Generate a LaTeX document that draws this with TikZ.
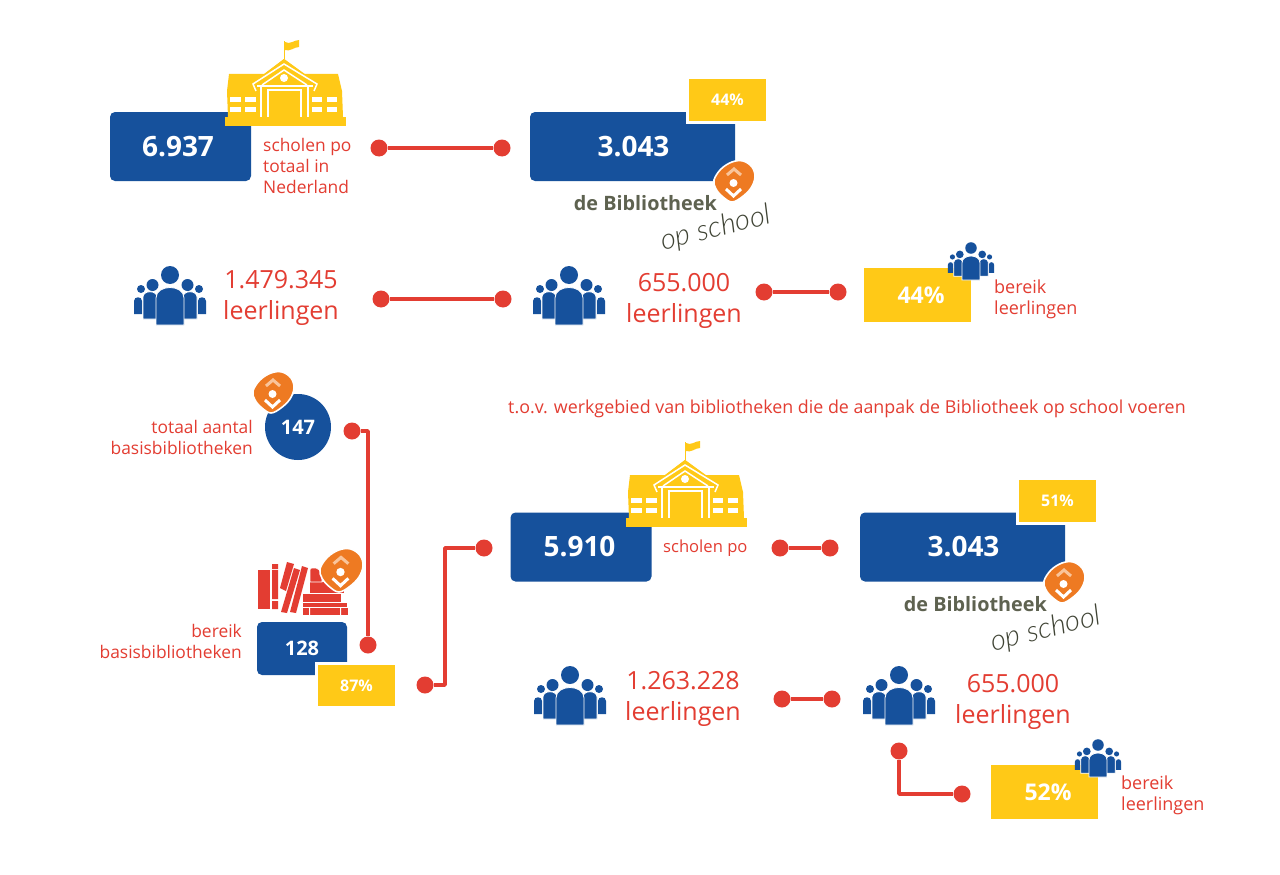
\documentclass[tikz,border=0pt]{standalone}
\usepackage{fontspec}
\setmainfont{Open Sans}
\newfontfamily\handfont{Lato Light Italic}
\usetikzlibrary{calc}
\definecolor{bibblue}{HTML}{16519C}
\definecolor{bibyellow}{HTML}{FFC917}
\definecolor{bibred}{HTML}{E33D32}
\definecolor{biborange}{HTML}{EE7A22}
\definecolor{bibpeach}{HTML}{F9C49A}
\definecolor{bibolive}{HTML}{5E6250}
\definecolor{bibhand}{HTML}{3F4334}
\newcommand{\fs}[1]{\fontsize{#1}{#1}\selectfont}
\tikzset{
  crowd/.pic={
    \foreach \s in {-1,1} {
      \fill[bibblue] (\s*29,-36) circle (4);
      \fill[bibblue] (\s*36,-11) -- (\s*36,-24) .. controls (\s*36,-29) and (\s*28,-29) .. (\s*28,-24) -- (\s*28,-11) -- cycle;
      \fill[bibblue] (\s*17.5,-40) circle (6);
      \filldraw[bibblue,draw=white,line width=.8pt] (\s*27,-6) -- (\s*27,-28) .. controls (\s*27,-35) and (\s*13,-35) .. (\s*13,-28) -- (\s*13,-6) -- cycle;
    }
    \fill[bibblue] (0,-50) circle (9);
    \filldraw[bibblue,draw=white,line width=.8pt] (-14,0) -- (-14,-27) .. controls (-14,-41) and (14,-41) .. (14,-27) -- (14,0) -- cycle;
  },
  schoolhouse/.pic={
    \fill[bibyellow] (-59,-9) rectangle (62,0);
    \fill[bibyellow] (-56,-9) -- (-57,-35) -- (-55,-52) -- (-20,-52) -- (0,-67) -- (20,-52) -- (54,-52) -- (58,-35) -- (59,-9) -- cycle;
    \fill[bibyellow] (-34,-41) -- (0,-67) -- (36,-41) -- cycle;
    \draw[white,line width=1.5pt] (-28,-35) -- (-31,-42) -- (0,-62) -- (33,-42) -- (30,-35);
    \draw[white,line width=1.5pt] (-22,-41) -- (0,-56) -- (23,-41);
    \draw[white,line width=1.5pt] (-27,-40) -- (29,-40);
    \draw[white,line width=1.5pt] (-23,-40) -- (-23,-9) (24,-40) -- (24,-9);
    \draw[white,line width=1.5pt] (-16,-9) -- (-16,-36) -- (17,-36) -- (17,-9);
    \fill[white] (0,-48) circle (4);
    \foreach \y in {-29,-19} {
      \foreach \x/\w in {-54/11,-39/11,28/10,43/10}
        \fill[white] (\x,\y) rectangle ++(\w,4.5);
    }
    \draw[bibyellow,line width=1pt] (0,-67) -- (0,-85);
    \fill[bibyellow] (1,-84) .. controls (6,-81) and (10,-86) .. (15,-86) -- (15,-79) .. controls (10,-79) and (6,-74) .. (1,-76) -- cycle;
  },
  biblogo/.pic={
    \filldraw[biborange,draw=white,line width=1.6pt] plot[smooth cycle,tension=.6] coordinates {(-20,-2) (-13,-13) (-2,-20) (9,-21) (18,-15) (21,-5) (17,6) (8,15) (-2,20) (-11,15) (-18,7)};
    \draw[bibpeach,line width=3pt] (-7,-7) -- (0,-13) -- (7,-7);
    \fill[white] (-.5,1) circle (4);
    \draw[white,line width=3pt] (-8,7) -- (-.5,14) -- (7,7);
  },
  bookpile/.pic={
    \fill[bibred] (0,-45) rectangle (12,-6);
    \fill[bibred] (14,-51) rectangle (20,-46) (14,-45) rectangle (20,-16) (14,-14) rectangle (20,-6);
    \fill[bibred] (29,-53) -- (36,-51) -- (28,-24) -- (22,-27) -- cycle;
    \fill[bibred] (36,-47) -- (42,-45) -- (29,-2) -- (23,-3) -- cycle;
    \fill[bibred] (44,-49) -- (50,-47) -- (38,-2) -- (32,-3) -- cycle;
    \fill[bibred] (45,-7) rectangle (90,0);
    \fill[white] (51,-7) rectangle (52,0) (82,-7) rectangle (83,0);
    \fill[bibred] (45,-12) rectangle (89,-8);
    \fill[bibred] (45,-21) rectangle (83,-13);
    \fill[bibred] (52,-33) rectangle (86,-22);
    \filldraw[bibred,draw=white,line width=.6pt] (52,-33) -- (52,-44) [rounded corners=2] -- (52,-47) -- (60,-47) [sharp corners] -- (64,-40) -- (64,-33) -- cycle;
  },
  bibbox/.style={fill=bibblue,rounded corners=5,text=white,font=\fs{28}\bfseries,inner sep=0,anchor=center},
  pctbox/.style={fill=bibyellow,draw=white,line width=3,text=white,font=\bfseries,inner sep=0},
  redtext/.style={text=bibred,inner sep=0,font=\fs{17.4}},
  bigtext/.style={text=bibred,inner sep=0,align=center,font=\fs{25}},
  dot/.style={circle,fill=bibred,inner sep=0,minimum size=17},
  link/.style={draw=bibred,line width=3.8,line join=round},
  biblabel/.style={text=bibolive,inner sep=0,font=\fs{19.8}\bfseries},
  oplabel/.style={text=bibhand,inner sep=0,font=\fs{29}\handfont,rotate=14},
}
\begin{document}
\begin{tikzpicture}[x=1pt,y=-1pt]
  \useasboundingbox[fill=white] (0,0) rectangle (1280,875);

  % top row
  \node[bibbox,minimum width=141,minimum height=69] (total) at (180.5,146.5) {6.937\hspace*{5pt}};
  \pic at (284,126) {schoolhouse};
  \node[redtext,align=left,anchor=north west] (totaltext) at (263,138) {scholen po\\[3.6pt]totaal in\\[3.6pt]Nederland};
  \node[dot] (a1) at (379,148) {};
  \node[dot] (a2) at (502,148) {};
  \draw[link] (a1) -- (a2);
  \node[bibbox,minimum width=205,minimum height=69] (school) at (632.5,146.5) {\hspace*{2pt}3.043};
  \node[pctbox,minimum width=80,minimum height=45,font=\fs{16}\bfseries] (schoolpct) at (727.5,100) {44\%};
  \pic at (734,182) {biblogo};
  \node[biblabel,anchor=east] (schoolbib) at (717,203) {de Bibliotheek};
  \node[oplabel] (schoolop) at (716,229) {op school};

  % pupils
  \pic at (170,325) {crowd};
  \node[bigtext] (pupils) at (281,298) {1.479.345\\[6pt]leerlingen};
  \node[dot] (b1) at (381,299) {};
  \node[dot] (b2) at (503,299) {};
  \draw[link] (b1) -- (b2);
  \pic at (569,325) {crowd};
  \node[bigtext] (reached) at (684,301) {655.000\\[6pt]leerlingen};
  \node[dot] (c1) at (764,292) {};
  \node[dot] (c2) at (838,292) {};
  \draw[link] (c1) -- (c2);
  \node[pctbox,minimum width=110,minimum height=57,font=\fs{23}\bfseries] (reachpct) at (917.5,295) {\hspace*{7pt}44\%};
  \pic[scale=.64] at (971,280) {crowd};
  \node[redtext,align=left,anchor=west,font=\fs{18}] (reachtext) at (994,299) {bereik\\[3pt]leerlingen};

  % libraries
  \node[circle,fill=bibblue,text=white,font=\fs{20}\bfseries,minimum size=66,inner sep=0] (libs) at (298,427) {147};
  \pic at (273,393) {biblogo};
  \node[redtext,align=right,anchor=east] (libstext) at (253,437) {totaal aantal\\[3.6pt]basisbibliotheken};
  \node[dot] (d1) at (352,431) {};
  \pic at (258,615) {bookpile};
  \pic[scale=1.05] at (341,571) {biblogo};
  \node[bibbox,minimum width=90,minimum height=53,font=\fs{20}\bfseries] (reachlibs) at (302,648.5) {128};
  \node[pctbox,minimum width=80,minimum height=44,font=\fs{16}\bfseries] (libspct) at (356.5,685.5) {87\%};
  \node[redtext,align=right,anchor=east] (reachlibstext) at (242,641.5) {bereik\\[3.6pt]basisbibliotheken};
  \node[dot] (d2) at (368,645) {};
  \draw[link] (d1) -| (d2);
  \node[dot] (e1) at (425,685) {};
  \node[dot] (e2) at (484,548) {};
  \coordinate (e3) at (445,548);
  \draw[link] (e1) -| (e3) -- (e2);

  % work area
  \node[redtext,anchor=west,font=\fs{17.85}] (areatext) at (508,408.5) {t.o.v. werkgebied van bibliotheken die de aanpak de Bibliotheek op school voeren};
  \node[bibbox,minimum width=141,minimum height=69] (areatotal) at (581,547) {5.910\hspace*{3pt}};
  \pic at (685,527) {schoolhouse};
  \node[redtext,anchor=west,font=\fs{16.6}] (areaschool) at (663,548) {scholen po};
  \node[dot] (f1) at (780,548) {};
  \node[dot] (f2) at (830,548) {};
  \draw[link] (f1) -- (f2);
  \node[bibbox,minimum width=205,minimum height=69] (areabib) at (962.5,547) {\hspace*{2pt}3.043};
  \node[pctbox,minimum width=80,minimum height=45,font=\fs{16}\bfseries] (areapct) at (1057.5,500.5) {51\%};
  \pic at (1064,583) {biblogo};
  \node[biblabel,anchor=east] (areabibtext) at (1047,604) {de Bibliotheek};
  \node[oplabel] (areaop) at (1046,630) {op school};

  % pupils in work area
  \pic at (570,725) {crowd};
  \node[bigtext] (areapupils) at (683,699) {1.263.228\\[6pt]leerlingen};
  \node[dot] (g1) at (782,699) {};
  \node[dot] (g2) at (832,699) {};
  \draw[link] (g1) -- (g2);
  \pic at (899,725) {crowd};
  \node[bigtext] (areareached) at (1013,702) {655.000\\[6pt]leerlingen};
  \node[dot] (h1) at (899,751) {};
  \node[dot] (h2) at (962,794) {};
  \draw[link] (h1) |- (h2);
  \node[pctbox,minimum width=110,minimum height=57,font=\fs{23}\bfseries] (areareach) at (1044.5,792) {\hspace*{7pt}52\%};
  \pic[scale=.64] at (1098,777) {crowd};
  \node[redtext,align=left,anchor=west,font=\fs{18}] (areareachtext) at (1121,795) {bereik\\[3pt]leerlingen};
\end{tikzpicture}
\end{document}
